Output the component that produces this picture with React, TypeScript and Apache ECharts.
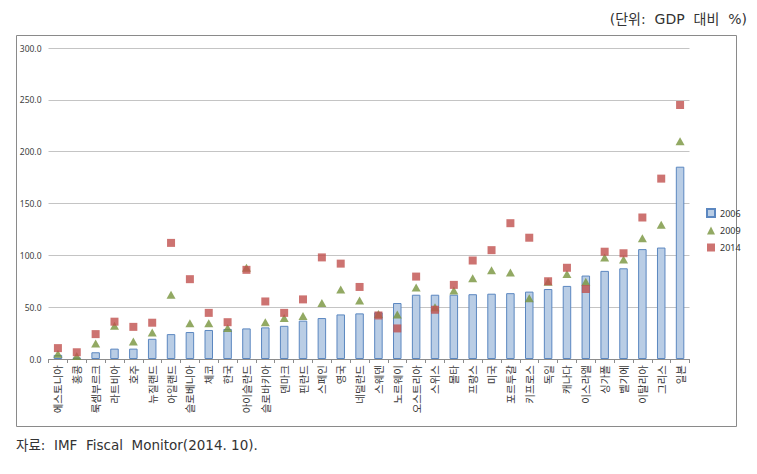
import React, { useEffect, useRef } from "react";
import * as echarts from "echarts";

const categories = ["에스토니아","홍콩","룩셈부르크","라트비아","호주","뉴질랜드","아일랜드","슬로베니아","체코","한국","아이슬란드","슬로바키아","덴마크","핀란드","스페인","영국","네덜란드","스웨덴","노르웨이","오스트리아","스위스","몰타","프랑스","미국","포르투갈","키프로스","독일","캐나다","이스라엘","싱가폴","벨기에","이탈리아","그리스","일본"];
const v2006 = [4, 1.5, 6.5, 10, 10, 19.5, 24, 26, 28, 29, 29.5, 30.5, 32, 37, 39.5, 43, 44, 45, 54, 62, 62, 62, 62.5, 63, 63.5, 65, 67.5, 70.5, 80.5, 85, 87.5, 106, 107.5, 185.5];
const v2009 = [5, 3, 15, 32, 17, 25.5, 62, 34.5, 34.5, 30, 88, 35.5, 39.5, 41.5, 54, 67, 56.5, 43.5, 43, 69, 50, 66, 78, 85.5, 83.5, 58.5, 74.5, 82, 74.5, 98, 96, 116.5, 129.5, 210];
const v2014 = [10.5, 6.5, 24, 36, 31, 35, 112, 77, 44.5, 35.5, 86, 55.5, 44.5, 57.5, 98, 92, 69.5, 42, 29.5, 79.5, 47.5, 71.5, 95, 105, 131, 117, 75, 88, 67.5, 103.5, 102, 136.5, 174, 245];
const seriesNames = ["2006", "2009", "2014"];
const unitText = "(단위:  GDP  대비  %)";
const sourceText = "자료:  IMF  Fiscal  Monitor(2014. 10).";

const KR = "'Noto Sans CJK KR', 'Noto Sans', sans-serif";
const KRW = "'DejaVu Sans', 'Noto Sans CJK KR', sans-serif";

export default function App() {
  const ref = useRef<HTMLDivElement>(null);
  useEffect(() => {
    if (!ref.current) return;
    const chart = echarts.init(ref.current, null, { renderer: "svg" });
    chart.setOption({
      animation: false,
      backgroundColor: "#fff",
      grid: { left: 48.5, right: 67.5, top: 48, bottom: 115, containLabel: false },
      legend: {
        orient: "vertical",
        left: 701,
        top: 203,
        itemGap: 8,
        itemWidth: 8,
        itemHeight: 8,
        textStyle: { fontSize: 9, color: "#333", fontFamily: "'Noto Sans', sans-serif" },
        data: [
          { name: seriesNames[0], icon: "rect" },
          { name: seriesNames[1], icon: "triangle" },
          { name: seriesNames[2], icon: "rect" },
        ],
      },
      xAxis: {
        type: "category",
        data: categories,
        axisLine: { lineStyle: { color: "#8c8c8c" } },
        axisTick: { show: true, length: 4, lineStyle: { color: "#8c8c8c" } },
        axisLabel: {
          rotate: 90,
          interval: 0,
          fontSize: 10.5,
          color: "#3a3a3a",
          fontFamily: KR,
          margin: 6,
        },
      },
      yAxis: {
        type: "value",
        min: 0,
        max: 300,
        interval: 50,
        axisLine: { show: false },
        axisTick: { show: false },
        splitLine: { lineStyle: { color: "#c4c4c4" } },
        axisLabel: {
          fontSize: 8.5,
          color: "#404040",
          margin: 7,
          fontFamily: "'Noto Sans', sans-serif",
          formatter: (v: number) => v.toFixed(1),
        },
      },
      series: [
        {
          name: seriesNames[0],
          type: "bar",
          data: v2006,
          barWidth: 8.5,
          itemStyle: { color: "#b9cde5", borderColor: "#5b87c0", borderWidth: 1 },
          z: 1,
        },
        {
          name: seriesNames[1],
          type: "scatter",
          data: v2009,
          symbol: "triangle",
          symbolSize: [9, 8],
          itemStyle: { color: "#77933c" },
          z: 3,
        },
        {
          name: seriesNames[2],
          type: "scatter",
          data: v2014,
          symbol: "rect",
          symbolSize: 8,
          itemStyle: { color: "#c0504d" },
          z: 4,
        },
      ],
      graphic: [
        {
          type: "rect",
          shape: { x: 16.5, y: 35.5, width: 720, height: 391 },
          style: { fill: "none", stroke: "#8a8a8a", lineWidth: 1 },
          silent: true,
        },
        {
          type: "text",
          right: 10,
          top: 12,
          style: { text: unitText, fontSize: 14, fill: "#333", fontFamily: KRW },
        },
        {
          type: "text",
          left: 16,
          top: 438,
          style: { text: sourceText, fontSize: 13.5, fill: "#333", fontFamily: KRW },
        },
      ],
    });
    return () => chart.dispose();
  }, []);
  return (
    <div
      ref={ref}
      style={{ position: "fixed", left: 0, top: 0, width: 757, height: 474 }}
    />
  );
}
